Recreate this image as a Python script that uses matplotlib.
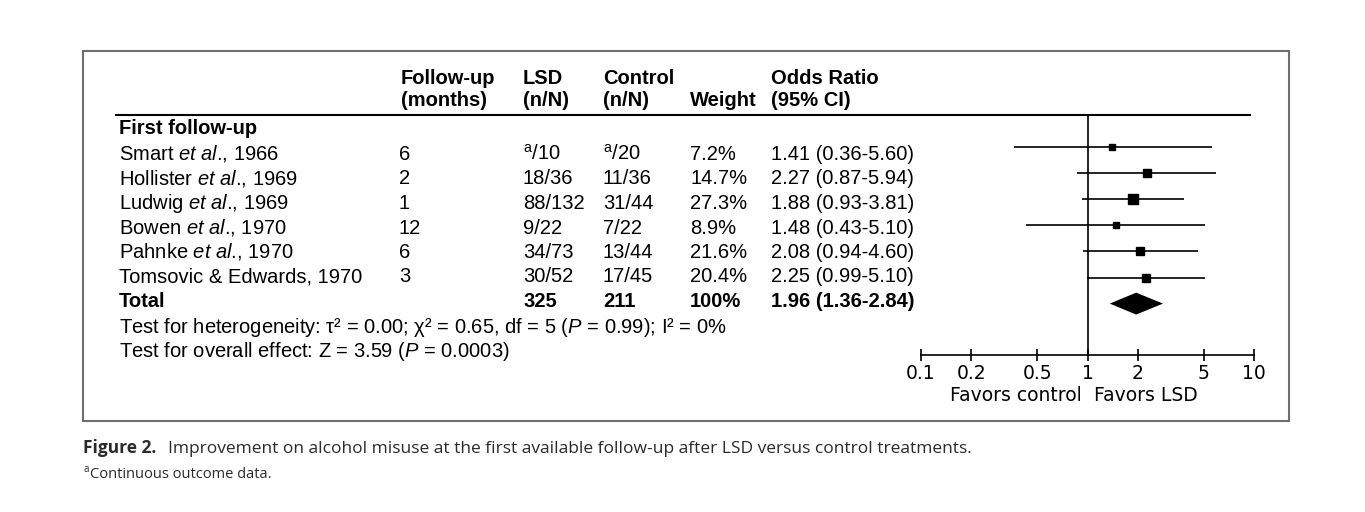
import numpy as np
import matplotlib
matplotlib.use('Agg')
import matplotlib.pyplot as plt
from matplotlib.patches import Rectangle
from matplotlib.ticker import NullLocator

# 研究ごとのデータ
studies = [r'Smart $\mathit{et\ al}$., 1966',
           r'Hollister $\mathit{et\ al}$., 1969',
           r'Ludwig $\mathit{et\ al}$., 1969',
           r'Bowen $\mathit{et\ al}$., 1970',
           r'Pahnke $\mathit{et\ al}$., 1970',
           'Tomsovic & Edwards, 1970']
months = [6, 2, 1, 12, 6, 3]
lsd_n = [None, 18, 88, 9, 34, 30]
lsd_N = [10, 36, 132, 22, 73, 52]
ctrl_n = [None, 11, 31, 7, 13, 17]
ctrl_N = [20, 36, 44, 22, 44, 45]
weights = [7.2, 14.7, 27.3, 8.9, 21.6, 20.4]
odds = [1.41, 2.27, 1.88, 1.48, 2.08, 2.25]
ci_lo = [0.36, 0.87, 0.93, 0.43, 0.94, 0.99]
ci_hi = [5.60, 5.94, 3.81, 5.10, 4.60, 5.10]

# 合計
total_lsd = 325
total_ctrl = 211
total_weight = 100
total_or = 1.96
total_lo = 1.36
total_hi = 2.84

# 軸の目盛り
ticks = [0.1, 0.2, 0.5, 1, 2, 5, 10]
tick_labels = ['0.1', '0.2', '0.5', '1', '2', '5', '10']

plt.rcParams['font.family'] = ['Liberation Sans', 'DejaVu Sans']
plt.rcParams['mathtext.fontset'] = 'custom'
plt.rcParams['mathtext.rm'] = 'Liberation Sans'
plt.rcParams['mathtext.it'] = 'Liberation Sans:italic'
plt.rcParams['mathtext.bf'] = 'Liberation Sans:bold'

W, H = 1365, 512
fig = plt.figure(figsize=(W / 100, H / 100), dpi=100)

# 背景用の軸（ピクセル座標）
bg = fig.add_axes([0, 0, 1, 1])
bg.set_xlim(0, W)
bg.set_ylim(H, 0)
bg.axis('off')

# 枠
bg.add_patch(Rectangle((83, 51), 1289 - 83, 421 - 51, fill=False,
                       ec='#6e6e6e', lw=1.5))
# ヘッダーの線
bg.plot([116, 1250], [115, 115], color='black', lw=1.5)

fs = 14.5
def txt(x, y, s, **kw):
    bg.text(x, y, s, fontsize=kw.pop('fontsize', fs), va='baseline', **kw)

# 見出し
txt(401, 84, 'Follow-up', weight='bold')
txt(401, 106, '(months)', weight='bold')
txt(523, 84, 'LSD', weight='bold')
txt(523, 106, '(n/N)', weight='bold')
txt(603, 84, 'Control', weight='bold')
txt(603, 106, '(n/N)', weight='bold')
txt(690, 106, 'Weight', weight='bold')
txt(771, 84, 'Odds Ratio', weight='bold')
txt(771, 106, '(95% CI)', weight='bold')
txt(119, 134, 'First follow-up', weight='bold')

# 各行
for i in range(len(studies)):
    y = 160 + 24.5 * i
    txt(119, y, studies[i])
    txt(399, y, str(months[i]))
    a = r'${}^{\mathrm{a}}$' if lsd_n[i] is None else str(lsd_n[i])
    txt(523, y, a + '/' + str(lsd_N[i]))
    b = r'${}^{\mathrm{a}}$' if ctrl_n[i] is None else str(ctrl_n[i])
    txt(603, y, b + '/' + str(ctrl_N[i]))
    txt(690, y, f'{weights[i]:.1f}%')
    txt(771, y, f'{odds[i]:.2f} ({ci_lo[i]:.2f}-{ci_hi[i]:.2f})')

y = 160 + 24.5 * len(studies)
txt(119, y, 'Total', weight='bold')
txt(523, y, str(total_lsd), weight='bold')
txt(603, y, str(total_ctrl), weight='bold')
txt(690, y, f'{total_weight}%', weight='bold')
txt(771, y, f'{total_or:.2f} ({total_lo:.2f}-{total_hi:.2f})', weight='bold')

txt(119, 333, r'Test for heterogeneity: τ² = 0.00; χ² = 0.65, df = 5 ($\mathit{P}$ = 0.99); I² = 0%')
txt(119, 357, r'Test for overall effect: Z = 3.59 ($\mathit{P}$ = 0.0003)')

# フォレストプロット
fa = fig.add_axes([921 / W, 1 - 355 / H, (1254 - 921) / W, (355 - 115) / H])
fa.patch.set_visible(False)
fa.set_xscale('log')
fa.set_xlim(0.1, 10)
fa.set_ylim(208 / 26.1, -32 / 26.1)
fa.axvline(1, color='black', lw=1.2)
rows = np.arange(len(studies))
fa.hlines(rows, ci_lo, ci_hi, color='black', lw=1.2)
for i in rows:
    fa.plot(odds[i], i, 's', color='black',
            markersize=7.2 * np.sqrt(weights[i] / 27.3))
t = len(studies)
fa.fill([total_lo, total_or, total_hi, total_or], [t, t - 0.42, t, t + 0.42],
        color='black', lw=0)

for s in ['top', 'right', 'left']:
    fa.spines[s].set_visible(False)
fa.spines['bottom'].set_linewidth(1.2)
fa.set_xticks(ticks)
fa.set_xticklabels(tick_labels, family='DejaVu Sans')
fa.xaxis.set_minor_locator(NullLocator())
fa.set_yticks([])
fa.tick_params(axis='x', direction='inout', length=9, width=1.2, pad=2,
               labelsize=13.5)

txt(1016, 401, 'Favors control', ha='center', family='DejaVu Sans', fontsize=13.5)
txt(1146, 401, 'Favors LSD', ha='center', family='DejaVu Sans', fontsize=13.5)

# キャプション
cs = 12.5
txt(83, 453, 'Figure 2.', family='Open Sans', weight='bold', fontsize=cs, color='#2a2a2a')
txt(168, 453, 'Improvement on alcohol misuse at the first available follow-up after LSD versus control treatments.',
    family='Open Sans', fontsize=cs, color='#2a2a2a')
txt(83, 472, 'a', family='Open Sans', fontsize=7, color='#2a2a2a')
txt(90, 478, 'Continuous outcome data.', family='Open Sans', fontsize=10.5, color='#2a2a2a')

fig.savefig('out.png', dpi=100)
